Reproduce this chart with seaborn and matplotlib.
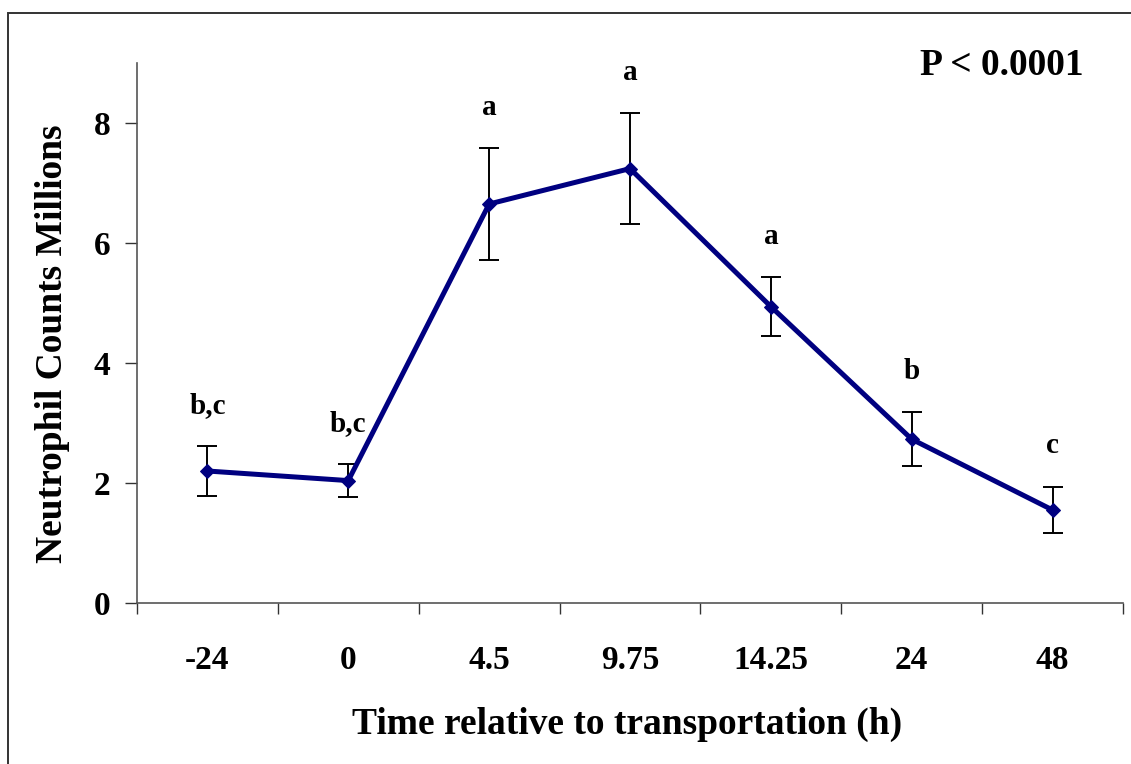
import matplotlib
matplotlib.use("Agg")
import matplotlib.pyplot as plt
import seaborn as sns
import pandas as pd
import numpy as np
from matplotlib.patches import Rectangle
from matplotlib.ticker import FixedLocator

# ---- data ----
times = ["-24", "0", "4.5", "9.75", "14.25", "24", "48"]
means = [2.20, 2.04, 6.65, 7.24, 4.94, 2.73, 1.55]
errors = [0.41, 0.27, 0.93, 0.92, 0.49, 0.45, 0.39]
letters = ["b,c", "b,c", "a", "a", "a", "b", "c"]
y_ticks = [0, 2, 4, 6, 8]
p_text = "P < 0.0001"

sns.set_theme(style="white")
plt.rcParams["font.family"] = ["Liberation Serif", "DejaVu Serif"]
plt.rcParams["font.weight"] = "bold"
plt.rcParams["text.color"] = "black"
plt.rcParams["axes.labelcolor"] = "black"
plt.rcParams["xtick.color"] = "black"
plt.rcParams["ytick.color"] = "black"

fig = plt.figure(figsize=(11.31, 7.64), dpi=100)
ax = fig.add_axes([137/1131, 1 - 603/764, (1123-137)/1131, (603-63)/764])

df = pd.DataFrame({"time": times, "mean": means})
sns.lineplot(data=df, x="time", y="mean", ax=ax, color="#000080", lw=3.6,
             marker="D", markersize=7, markeredgecolor="#000080", sort=False)
xpos = np.arange(len(times))
ax.errorbar(xpos, means, yerr=errors, fmt="none", ecolor="black",
            elinewidth=1.4, capsize=7, capthick=1.4, zorder=1)

for x, m, e, lab in zip(xpos, means, errors, letters):
    ax.text(x, m + e + 0.68, lab, ha="center", va="center", fontsize=21,
            fontweight="bold", color="black")

ax.text(0.877, 0.996, p_text, transform=ax.transAxes, ha="center", va="center",
        fontsize=27, fontweight="bold", color="black")

ax.set_xlim(-0.5, len(times) - 0.5)
ax.set_ylim(0, 9)
ax.set_yticks(y_ticks)
ax.set_yticklabels([str(v) for v in y_ticks])
ax.set_xticks(xpos)
ax.set_xticklabels(times)
ax.xaxis.set_minor_locator(FixedLocator(np.arange(-0.5, len(times), 1.0)))

for s in ["top", "right"]:
    ax.spines[s].set_visible(False)
for s in ["left", "bottom"]:
    ax.spines[s].set_color("#555555")
    ax.spines[s].set_linewidth(1.2)

ax.tick_params(axis="y", which="major", direction="out", length=9, width=1,
               color="#333333", labelcolor="black", labelsize=24, pad=10, left=True)
ax.tick_params(axis="x", which="major", length=0, labelsize=24, pad=30,
               labelcolor="black", bottom=True)
ax.tick_params(axis="x", which="minor", direction="out", length=8, width=1,
               color="#333333", bottom=True)
for t in ax.get_xticklabels() + ax.get_yticklabels():
    t.set_fontweight("bold")

ax.set_xlabel("Time relative to transportation (h)", fontsize=27,
              fontweight="bold", va="center", color="black")
ax.xaxis.set_label_coords(0.497, -0.224)
ax.set_ylabel("Neutrophil Counts Millions", fontsize=27, fontweight="bold",
              va="center", color="black")
ax.yaxis.set_label_coords(-0.086, 0.481)

fig.patches.append(Rectangle((8/1131, -0.5), 2, 0.5 + (1 - 13/764),
                             transform=fig.transFigure, fill=False,
                             edgecolor="#333333", lw=1.4))

fig.savefig("out.png", dpi=100)
